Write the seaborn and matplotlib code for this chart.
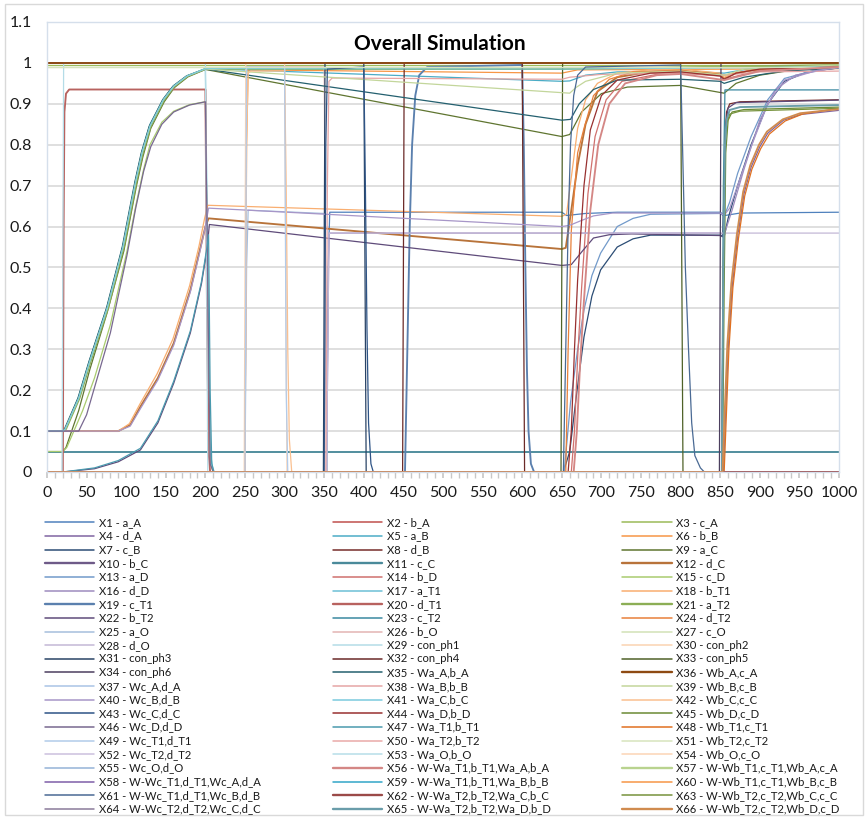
import matplotlib
matplotlib.use("Agg")
import matplotlib.pyplot as plt
import seaborn as sns
import pandas as pd
from matplotlib.lines import Line2D
from matplotlib.patches import Rectangle

# ---------------- data ----------------
labels = [
    "X1 - a_A", "X2 - b_A", "X3 - c_A", "X4 - d_A", "X5 - a_B", "X6 - b_B",
    "X7 - c_B", "X8 - d_B", "X9 - a_C", "X10 - b_C", "X11 - c_C", "X12 - d_C",
    "X13 - a_D", "X14 - b_D", "X15 - c_D", "X16 - d_D", "X17 - a_T1", "X18 - b_T1",
    "X19 - c_T1", "X20 - d_T1", "X21 - a_T2", "X22 - b_T2", "X23 - c_T2", "X24 - d_T2",
    "X25 - a_O", "X26 - b_O", "X27 - c_O", "X28 - d_O", "X29 - con_ph1", "X30 - con_ph2",
    "X31 - con_ph3", "X32 - con_ph4", "X33 - con_ph5", "X34 - con_ph6", "X35 - Wa_A,b_A", "X36 - Wb_A,c_A",
    "X37 - Wc_A,d_A", "X38 - Wa_B,b_B", "X39 - Wb_B,c_B", "X40 - Wc_B,d_B", "X41 - Wa_C,b_C", "X42 - Wb_C,c_C",
    "X43 - Wc_C,d_C", "X44 - Wa_D,b_D", "X45 - Wb_D,c_D", "X46 - Wc_D,d_D", "X47 - Wa_T1,b_T1", "X48 - Wb_T1,c_T1",
    "X49 - Wc_T1,d_T1", "X50 - Wa_T2,b_T2", "X51 - Wb_T2,c_T2", "X52 - Wc_T2,d_T2", "X53 - Wa_O,b_O", "X54 - Wb_O,c_O",
    "X55 - Wc_O,d_O", "X56 - W-Wa_T1,b_T1,Wa_A,b_A", "X57 - W-Wb_T1,c_T1,Wb_A,c_A",
    "X58 - W-Wc_T1,d_T1,Wc_A,d_A", "X59 - W-Wa_T1,b_T1,Wa_B,b_B", "X60 - W-Wb_T1,c_T1,Wb_B,c_B",
    "X61 - W-Wc_T1,d_T1,Wc_B,d_B", "X62 - W-Wa_T2,b_T2,Wa_C,b_C", "X63 - W-Wb_T2,c_T2,Wb_C,c_C",
    "X64 - W-Wc_T2,d_T2,Wc_C,d_C", "X65 - W-Wa_T2,b_T2,Wa_D,b_D", "X66 - W-Wb_T2,c_T2,Wb_D,c_D",
]

X1 = [(0, 0), (353, 0), (355, 0.5), (357, 0.635), (650, 0.635), (656, 0.627), (680, 0.632), (720, 0.635),
      (850, 0.635), (856, 0.627), (875, 0.633), (1000, 0.635)]
X2 = [(0, 0), (1000, 0)]
X3 = [(0, 0.995), (1000, 0.995)]
X4 = [(0, 0), (854, 0), (857, 0.15), (860, 0.3), (865, 0.45), (872, 0.574), (880, 0.68), (889, 0.745),
      (900, 0.795), (910, 0.828), (930, 0.86), (952, 0.874), (1000, 0.884)]
X5 = [(0, 0.1), (20, 0.1), (23, 0.105), (40, 0.18), (54, 0.27), (76, 0.40), (96, 0.55), (105, 0.64),
      (112, 0.71), (120, 0.78), (130, 0.845), (147, 0.91), (160, 0.943), (177, 0.968), (200, 0.986),
      (650, 0.955), (660, 0.956), (680, 0.97), (720, 0.978), (800, 0.98), (855, 0.975), (900, 0.99), (1000, 0.993)]
X6 = [(0, 0), (250, 0), (252, 0.8), (254, 0.983), (650, 0.975), (670, 0.983), (1000, 0.986)]
X7 = [(0, 0), (652, 0), (660, 0.05), (668, 0.18), (678, 0.33), (688, 0.43), (699, 0.494), (720, 0.55),
      (740, 0.57), (762, 0.579), (850, 0.579), (855, 0.575), (860, 0.62), (872, 0.70), (889, 0.80),
      (910, 0.90), (931, 0.955), (960, 0.978), (1000, 0.988)]
X8 = [(0, 0), (852, 0), (854, 0.5), (856, 0.82), (858, 0.88), (862, 0.9), (875, 0.905), (1000, 0.91)]
X9 = [(0, 0.05), (20, 0.05), (24, 0.06), (40, 0.15), (54, 0.25), (76, 0.39), (97, 0.54), (106, 0.63),
      (113, 0.70), (121, 0.77), (131, 0.84), (148, 0.905), (161, 0.94), (178, 0.966), (200, 0.984),
      (650, 0.82), (660, 0.825), (675, 0.88), (700, 0.925), (733, 0.941), (800, 0.945), (855, 0.926),
      (870, 0.95), (900, 0.97), (950, 0.985), (1000, 0.99)]
X10 = [(0, 1.0), (1000, 1.0)]
X11 = [(0, 0.05), (1000, 0.05)]
X12 = [(0, 0.1), (90, 0.1), (105, 0.115), (118, 0.16), (140, 0.23), (160, 0.315), (181, 0.445), (193, 0.543),
       (200, 0.60), (204, 0.62), (650, 0.545), (655, 0.548), (662, 0.64), (670, 0.75), (680, 0.85),
       (695, 0.93), (720, 0.965), (760, 0.978), (800, 0.98), (850, 0.972), (855, 0.962), (870, 0.975),
       (900, 0.985), (1000, 0.99)]
X13 = [(0, 0), (653, 0), (661, 0.17), (670, 0.30), (678, 0.396), (688, 0.48), (699, 0.535), (720, 0.60),
       (740, 0.62), (762, 0.63), (850, 0.632), (855, 0.625), (862, 0.66), (872, 0.73), (889, 0.82),
       (910, 0.91), (931, 0.962), (973, 0.984), (1000, 0.99)]
X14 = [(0, 0), (662, 0), (666, 0.1), (670, 0.28), (675, 0.45), (683, 0.68), (692, 0.82), (706, 0.91),
       (726, 0.955), (770, 0.972), (800, 0.975), (850, 0.968), (855, 0.96), (900, 0.982), (1000, 0.99)]
X15 = [(0, 0.05), (20, 0.05), (25, 0.06), (45, 0.15), (60, 0.23), (80, 0.36), (101, 0.54), (112, 0.65),
       (122, 0.74), (130, 0.80), (145, 0.855), (160, 0.882), (180, 0.898), (200, 0.905), (203, 0.45),
       (206, 0.02), (210, 0), (1000, 0)]
X16 = [(0, 0), (353, 0), (356, 0.584), (850, 0.584), (855, 0.58), (865, 0.64), (880, 0.74), (900, 0.86),
       (920, 0.935), (945, 0.97), (1000, 0.99)]
X17 = [(0, 0.1), (20, 0.1), (23, 0.105), (40, 0.185), (54, 0.275), (76, 0.405), (96, 0.555), (105, 0.645),
       (112, 0.715), (120, 0.785), (130, 0.85), (147, 0.912), (160, 0.945), (177, 0.969), (200, 0.986),
       (203, 0.5), (206, 0.05), (210, 0), (1000, 0)]
X18 = [(0, 0.1), (90, 0.1), (104, 0.118), (117, 0.165), (139, 0.24), (159, 0.325), (180, 0.455), (192, 0.553),
       (199, 0.62), (203, 0.652), (650, 0.625), (656, 0.63), (662, 0.72), (670, 0.84), (680, 0.91),
       (695, 0.95), (720, 0.975), (760, 0.983), (800, 0.985), (850, 0.975), (855, 0.965), (870, 0.975),
       (900, 0.985), (1000, 0.99)]
X19 = [(0, 0), (452, 0), (455, 0.3), (458, 0.6), (461, 0.8), (465, 0.92), (470, 0.97), (480, 0.99),
       (600, 0.995), (602, 0.8), (604, 0.5), (606, 0.25), (608, 0.1), (611, 0.02), (615, 0), (1000, 0)]
X20 = [(0, 0), (20, 0), (21, 0.6), (22, 0.88), (24, 0.925), (28, 0.935), (200, 0.935), (202, 0.4),
       (204, 0.05), (206, 0), (1000, 0)]
X21 = [(0, 0.1), (20, 0.1), (24, 0.105), (41, 0.18), (55, 0.27), (77, 0.40), (97, 0.55), (106, 0.64),
       (113, 0.71), (121, 0.78), (131, 0.845), (148, 0.91), (161, 0.943), (178, 0.968), (200, 0.985),
       (650, 0.985), (1000, 0.995)]
X22 = [(0, 0), (20, 0), (60, 0.008), (90, 0.025), (118, 0.054), (140, 0.12), (160, 0.217), (181, 0.34),
       (195, 0.46), (202, 0.543), (205, 0.605), (650, 0.505), (662, 0.507), (676, 0.54), (690, 0.572),
       (710, 0.58), (738, 0.582), (850, 0.578), (853, 0.575), (855, 0.7), (857, 0.85), (860, 0.89),
       (870, 0.903), (1000, 0.909)]
X23 = [(0, 0), (852, 0), (854, 0.7), (856, 0.934), (1000, 0.934)]
X24 = [(0, 0), (655, 0), (658, 0.3), (662, 0.59), (670, 0.78), (678, 0.84), (690, 0.92), (710, 0.96),
       (740, 0.978), (800, 0.982), (855, 0.97), (900, 0.985), (1000, 0.99)]
X25 = [(0, 0), (250, 0), (252, 0.5), (254, 0.64), (350, 0.632), (352, 0.3), (354, 0), (1000, 0)]
X26 = [(0, 0), (250, 0), (252, 0.99), (350, 0.99), (353, 0), (1000, 0)]
X27 = [(0, 0.99), (1000, 0.99)]
X28 = [(0, 0), (353, 0), (356, 0.584), (1000, 0.584)]
X29 = [(0, 0), (19, 0), (21, 1), (200, 1), (203, 0), (1000, 0)]
X30 = [(0, 0), (249, 0), (251, 1), (300, 1), (303, 0), (1000, 0)]
X31 = [(0, 0), (349, 0), (351, 1), (400, 1), (403, 0), (1000, 0)]
X32 = [(0, 0), (449, 0), (451, 1), (600, 1), (603, 0), (1000, 0)]
X33 = [(0, 0), (649, 0), (651, 1), (800, 1), (803, 0), (1000, 0)]
X34 = [(0, 0), (849, 0), (851, 1), (1000, 1)]
X35 = [(0, 0.1), (20, 0.1), (22, 0.105), (39, 0.18), (53, 0.27), (75, 0.40), (95, 0.55), (104, 0.64),
       (111, 0.71), (119, 0.78), (129, 0.845), (146, 0.91), (159, 0.943), (176, 0.968), (200, 0.985),
       (650, 0.86), (661, 0.862), (672, 0.9), (690, 0.935), (720, 0.958), (800, 0.96), (850, 0.955),
       (855, 0.95), (880, 0.965), (930, 0.98), (1000, 0.987)]
X36 = [(0, 1.0), (1000, 1.0)]
X37 = [(0, 0), (1000, 0)]
X38 = [(0, 0), (352, 0), (354, 0.7), (356, 0.955), (360, 0.963), (650, 0.96), (660, 0.965), (700, 0.972),
       (800, 0.975), (855, 0.97), (900, 0.978), (1000, 0.98)]
X39 = [(0, 0.1), (20, 0.1), (23, 0.105), (40, 0.18), (54, 0.27), (76, 0.40), (96, 0.55), (105, 0.64),
       (112, 0.71), (120, 0.78), (130, 0.845), (147, 0.91), (160, 0.943), (177, 0.968), (200, 0.985),
       (660, 0.926), (668, 0.94), (680, 0.955), (720, 0.975), (800, 0.98), (855, 0.97), (880, 0.985),
       (1000, 0.995)]
X40 = [(0, 0.1), (90, 0.1), (105, 0.112), (118, 0.155), (140, 0.225), (160, 0.31), (181, 0.44), (193, 0.538),
       (200, 0.60), (204, 0.645), (650, 0.60), (660, 0.603), (675, 0.615), (690, 0.626), (714, 0.633),
       (850, 0.633), (855, 0.628), (862, 0.645), (872, 0.70), (889, 0.795), (910, 0.90), (931, 0.958),
       (973, 0.982), (1000, 0.988)]
X41 = [(0, 0.1), (20, 0.1), (23, 0.105), (40, 0.18), (54, 0.27), (76, 0.40), (96, 0.55), (105, 0.64),
       (112, 0.71), (120, 0.78), (130, 0.845), (147, 0.91), (160, 0.943), (177, 0.968), (200, 0.986),
       (650, 0.985), (1000, 0.99)]
X42 = [(0, 0), (250, 0), (252, 0.8), (254, 0.975), (257, 0.98), (300, 0.98), (302, 0.7), (304, 0.3),
       (306, 0.08), (309, 0), (1000, 0)]
X43 = [(0, 0), (350, 0), (352, 0.8), (354, 0.985), (400, 0.99), (402, 0.7), (404, 0.35), (406, 0.12),
       (409, 0.02), (412, 0), (1000, 0)]
X44 = [(0, 0), (658, 0), (662, 0.1), (666, 0.3), (670, 0.47), (678, 0.70), (686, 0.836), (700, 0.92),
       (720, 0.958), (762, 0.975), (800, 0.978), (850, 0.968), (855, 0.96), (870, 0.975), (900, 0.985),
       (1000, 0.99)]
X45 = [(0, 0), (853, 0), (855, 0.45), (857, 0.78), (860, 0.86), (865, 0.88), (880, 0.886), (1000, 0.892)]
X46 = [(0, 0.1), (40, 0.1), (50, 0.14), (62, 0.22), (80, 0.34), (101, 0.53), (112, 0.645), (122, 0.735),
       (131, 0.795), (145, 0.85), (160, 0.88), (180, 0.897), (200, 0.905), (203, 0.45), (206, 0.02),
       (210, 0), (1000, 0)]
X47 = [(0, 0), (20, 0), (60, 0.01), (90, 0.028), (118, 0.058), (140, 0.125), (160, 0.222), (181, 0.345),
       (195, 0.465), (202, 0.55), (204, 0.58), (206, 0.2), (208, 0.02), (211, 0), (1000, 0)]
X48 = [(0, 0), (855, 0), (858, 0.15), (861, 0.3), (866, 0.45), (873, 0.57), (881, 0.675), (890, 0.74),
       (901, 0.79), (912, 0.826), (932, 0.858), (954, 0.875), (1000, 0.889)]
X49 = [(0, 0), (250, 0), (252, 0.99), (300, 0.99), (302, 0.2), (304, 0), (1000, 0)]
X50 = [(0, 0), (1000, 0)]
X51 = [(0, 0.99), (1000, 0.99)]
X52 = [(0, 0), (1000, 0)]
X53 = [(0, 0), (1000, 0)]
X54 = [(0, 0), (1000, 0)]
X55 = [(0, 0), (1000, 0)]
X56 = [(0, 0), (665, 0), (669, 0.1), (673, 0.26), (678, 0.42), (686, 0.64), (696, 0.8), (710, 0.9),
       (730, 0.95), (770, 0.97), (800, 0.973), (855, 0.958), (900, 0.98), (1000, 0.99)]
X57 = [(0, 0), (1000, 0)]
X58 = [(0, 0), (1000, 0)]
X59 = [(0, 0), (1000, 0)]
X60 = [(0, 0), (1000, 0)]
X61 = [(0, 0), (652, 0), (655, 0.3), (658, 0.6), (661, 0.8), (665, 0.92), (670, 0.97), (680, 0.99),
       (800, 0.995), (803, 0.75), (806, 0.5), (810, 0.3), (814, 0.12), (818, 0.04), (825, 0.01), (830, 0),
       (1000, 0)]
X62 = [(0, 0), (1000, 0)]
X63 = [(0, 0), (852, 0), (854, 0.5), (856, 0.79), (858, 0.85), (862, 0.875), (875, 0.882), (1000, 0.889)]
X64 = [(0, 0), (1000, 0)]
X65 = [(0, 0), (852, 0), (854, 0.5), (856, 0.8), (858, 0.86), (862, 0.885), (875, 0.892), (1000, 0.897)]
X66 = [(0, 0), (853, 0), (856, 0.16), (859, 0.31), (864, 0.46), (871, 0.58), (879, 0.685), (888, 0.75),
       (899, 0.8), (909, 0.832), (929, 0.862), (951, 0.877), (1000, 0.887)]

series = [X1, X2, X3, X4, X5, X6, X7, X8, X9, X10, X11, X12, X13, X14, X15, X16, X17, X18, X19, X20,
          X21, X22, X23, X24, X25, X26, X27, X28, X29, X30, X31, X32, X33, X34, X35, X36, X37, X38, X39,
          X40, X41, X42, X43, X44, X45, X46, X47, X48, X49, X50, X51, X52, X53, X54, X55, X56, X57, X58,
          X59, X60, X61, X62, X63, X64, X65, X66]

x_ticks = list(range(0, 1001, 50))
y_ticks = [0, 0.1, 0.2, 0.3, 0.4, 0.5, 0.6, 0.7, 0.8, 0.9, 1.0, 1.1]
y_tick_labels = ["0", "0.1", "0.2", "0.3", "0.4", "0.5", "0.6", "0.7", "0.8", "0.9", "1", "1.1"]

# ---------------- styles ----------------
colors = [
    "#4F81BD", "#C0504D", "#9BBB59", "#8064A2", "#4BACC6", "#F79646",
    "#2C4D75", "#772C2A", "#5F7530", "#6E5A88", "#4A8A9A", "#B8733A",
    "#729ACA", "#D0706D", "#A9CB6F", "#9E8BBE", "#6CC0D6", "#F9AE70",
    "#5B80AE", "#B8625F", "#8CAE55", "#5F4B7A", "#3B89A0", "#E8803A",
    "#A5BEDD", "#E3B4B3", "#D2E2B6", "#C3B8D6", "#B4DCE7", "#FBD3B2",
    "#2A4466", "#6B2A28", "#4F6228", "#4C3F5F", "#24606F", "#8E4A12",
    "#A9C4E6", "#E6A5A5", "#C3D69B", "#A796C8", "#7ACADE", "#FAC090",
    "#2E5486", "#983030", "#6B8A34", "#786890", "#4A9AAE", "#E07020",
    "#B2CBEA", "#EAAAA8", "#D7E4BD", "#CBC0DE", "#B7DEE8", "#FCD5B5",
    "#95B3D7", "#D48785", "#B9D38F", "#7E5EA8", "#31A6C8", "#F79646",
    "#4A6A94", "#9B4A48", "#76923C", "#8A7A9A", "#6A9DAA", "#D08B4F",
]
thick = {10, 11, 12, 19, 20, 21, 36, 56, 57, 62, 65, 66}

sns.set_theme(style="white")
plt.rcParams["font.family"] = ["Lato", "DejaVu Sans"]

W, H = 868, 819
fig = plt.figure(figsize=(W / 100, H / 100), dpi=100)
fig.patch.set_facecolor("white")
ax = fig.add_axes([47 / W, 1 - 472 / H, (839 - 47) / W, (472 - 22) / H])

for i, pts in enumerate(series):
    n = i + 1
    df = pd.DataFrame(pts, columns=["x", "y"])
    lw = 1.35 if n in thick else 0.9
    z = 4 if n == 2 else 2
    sns.lineplot(data=df, x="x", y="y", color=colors[i], linewidth=lw, ax=ax,
                 sort=False, estimator=None, legend=False, zorder=z)

ax.set_xlim(0, 1000)
ax.set_ylim(0, 1.1)
ax.set_xticks(x_ticks)
ax.set_xticklabels([str(v) for v in x_ticks])
ax.set_xticks(list(range(0, 1001, 10)), minor=True)
ax.set_yticks(y_ticks)
ax.set_yticklabels(y_tick_labels)
ax.set_xlabel("")
ax.set_ylabel("")
ax.yaxis.grid(True, color="#D9D9D9", linewidth=1.2)
ax.xaxis.grid(False)
ax.set_axisbelow(True)
for s in ax.spines.values():
    s.set_color("#D5DFEB")
    s.set_linewidth(1.0)
ax.tick_params(axis="y", length=0, pad=11, labelsize=11.5, labelcolor="#1a1a1a")
ax.tick_params(axis="x", which="major", length=4, color="#C8C8C8", pad=6, labelsize=11.5,
               labelcolor="#1a1a1a", direction="out", bottom=True)
ax.tick_params(axis="x", which="minor", length=4, color="#C8C8C8", direction="out", bottom=True)

fig.text(440 / W, 1 - 44 / H, "Overall Simulation", ha="center", va="center",
         fontsize=15, fontweight="bold", color="#000000")

# legend (3 columns, row-major like the reference)
hx0 = [45, 333, 622]
hx1 = [94, 382, 672]
tx = [99, 387, 676]
for i, lab in enumerate(labels):
    r, c = divmod(i, 3)
    yp = 522.3 + r * 13.65
    n = i + 1
    lw = 1.7 if n in thick else 1.1
    fig.add_artist(Line2D([hx0[c] / W, hx1[c] / W], [1 - yp / H, 1 - yp / H],
                          transform=fig.transFigure, color=colors[i], linewidth=lw))
    fig.text(tx[c] / W, 1 - yp / H, lab, ha="left", va="center", fontsize=8.1, color="#1a1a1a")

fig.add_artist(Rectangle((5 / W, 4 / H), 858 / W, 811 / H, transform=fig.transFigure,
                         fill=False, edgecolor="#D9D9D9", linewidth=1.0))

fig.savefig("out.png", dpi=100)
